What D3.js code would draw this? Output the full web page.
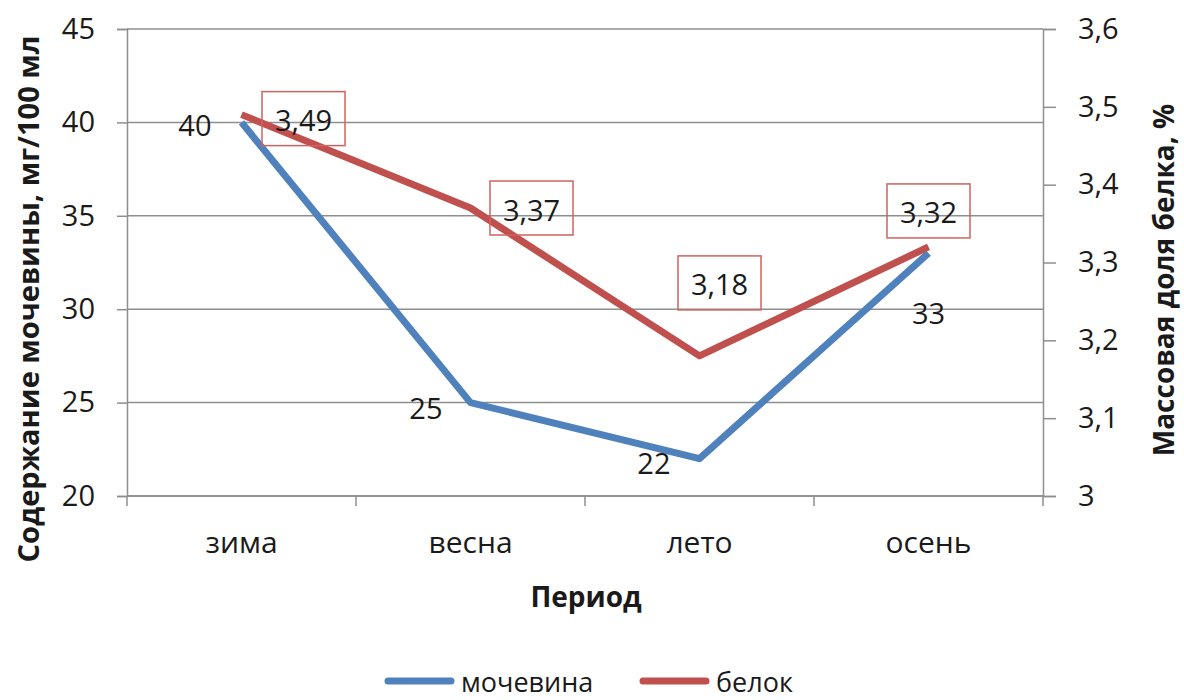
<!DOCTYPE html>
<html><head><meta charset="utf-8">
<script src="https://cdn.jsdelivr.net/npm/d3@7"></script>
<style>
html,body{margin:0;padding:0;background:#fff;}
svg{display:block;}
text{font-family:"Open Sans","DejaVu Sans",sans-serif;fill:#1a1a1a;}
</style></head>
<body>
<svg id="chart" width="1184" height="700"></svg>
<script>
const categories = ["зима", "весна", "лето", "осень"];
const ureaValues = [40, 25, 22, 33];
const proteinValues = [3.49, 3.37, 3.18, 3.32];
const ureaLabels = ["40", "25", "22", "33"];
const proteinLabels = ["3,49", "3,37", "3,18", "3,32"];
const leftTicks = [20, 25, 30, 35, 40, 45];
const rightTicks = [3.0, 3.1, 3.2, 3.3, 3.4, 3.5, 3.6];
const seriesNames = ["мочевина", "белок"];
const leftTitle = "Содержание мочевины, мг/100 мл";
const rightTitle = "Массовая доля белка, %";
const xTitle = "Период";

// label placement offsets (px) relative to the point
const ureaLabelPos = [{dx:-30,dy:2,anchor:"end"},{dx:-28,dy:5,anchor:"end"},{dx:-29,dy:4,anchor:"end"},{dx:0,dy:59,anchor:"middle"}];
const proteinLabelPos = [{dx:62,dy:4},{dx:61,dy:0},{dx:20,dy:-73},{dx:0,dy:-36}];

const blue = "#4f81bd", red = "#c0504d", grid = "#8e8e8e";
const svg = d3.select("#chart");
const L = 127, R = 1043, T = 29, B = 496;

const x = d3.scaleBand().domain(categories).range([L, R]);
const yL = d3.scaleLinear().domain([20, 45]).range([B, T]);
const yR = d3.scaleLinear().domain([3.0, 3.6]).range([B, T]);

// gridlines
svg.append("g").selectAll("line").data(leftTicks).join("line")
  .attr("x1", L).attr("x2", R).attr("y1", d => yL(d)).attr("y2", d => yL(d))
  .attr("stroke", grid).attr("stroke-width", 1.5);

// left axis
const gL = svg.append("g").attr("transform", `translate(${L},0)`)
  .call(d3.axisLeft(yL).tickValues(leftTicks).tickSize(10).tickPadding(22).tickFormat(d3.format("d")));
// right axis
const gR = svg.append("g").attr("transform", `translate(${R},0)`)
  .call(d3.axisRight(yR).tickValues(rightTicks).tickSize(13).tickPadding(22).tickFormat(d => d === 3 ? "3" : String(d).replace(".", ",")));
// bottom axis
const gB = svg.append("g").attr("transform", `translate(0,${B})`)
  .call(d3.axisBottom(x).tickSize(0).tickPadding(36));
// bottom category boundary ticks
svg.append("g").selectAll("line").data(d3.range(categories.length + 1)).join("line")
  .attr("x1", i => L + i * x.step()).attr("x2", i => L + i * x.step())
  .attr("y1", B).attr("y2", B + 10).attr("stroke", grid).attr("stroke-width", 1.5);

[gL, gR, gB].forEach(g => {
  g.selectAll(".domain").attr("stroke", grid).attr("stroke-width", 1.5);
  g.selectAll(".tick line").attr("stroke", grid).attr("stroke-width", 1.5);
  g.selectAll("text").style("font-size", "29px").attr("fill", "#1a1a1a");
});
gB.selectAll("text").style("font-size", "30px");
gB.select(".domain").remove();
svg.append("line").attr("x1", L).attr("x2", R).attr("y1", B).attr("y2", B).attr("stroke", grid).attr("stroke-width", 1.5);

const cx = d => x(d) + x.bandwidth() / 2;

// lines
const lineU = d3.line().x((d, i) => cx(categories[i])).y(d => yL(d));
const lineP = d3.line().x((d, i) => cx(categories[i])).y(d => yR(d));
svg.append("path").datum(ureaValues).attr("d", lineU).attr("fill", "none")
  .attr("stroke", blue).attr("stroke-width", 7).attr("stroke-linejoin", "round");
svg.append("path").datum(proteinValues).attr("d", lineP).attr("fill", "none")
  .attr("stroke", red).attr("stroke-width", 7).attr("stroke-linejoin", "round");

// urea labels
svg.append("g").selectAll("text").data(ureaValues).join("text")
  .attr("x", (d, i) => cx(categories[i]) + ureaLabelPos[i].dx)
  .attr("y", (d, i) => yL(d) + ureaLabelPos[i].dy)
  .attr("text-anchor", (d, i) => ureaLabelPos[i].anchor)
  .attr("dominant-baseline", "central")
  .style("font-size", "29px")
  .text((d, i) => ureaLabels[i]);

// protein labels with boxes
const pl = svg.append("g").selectAll("g").data(proteinValues).join("g")
  .attr("transform", (d, i) => `translate(${cx(categories[i]) + proteinLabelPos[i].dx},${yR(d) + proteinLabelPos[i].dy})`);
pl.append("rect").attr("x", -41.5).attr("y", -27).attr("width", 83).attr("height", 54)
  .attr("fill", "none").attr("stroke", "#d0625f").attr("stroke-width", 1.5);
pl.append("text").attr("text-anchor", "middle").attr("dominant-baseline", "central")
  .attr("y", 1).style("font-size", "29px").text((d, i) => proteinLabels[i]);

// axis titles
svg.append("text").attr("transform", `translate(39,${(T + 565) / 2 + 2}) rotate(-90)`)
  .attr("text-anchor", "middle").style("font-size", "29px").style("font-weight", "bold").text(leftTitle);
svg.append("text").attr("transform", `translate(1174,${280}) rotate(-90)`)
  .attr("text-anchor", "middle").style("font-size", "28px").style("font-weight", "bold").text(rightTitle);
svg.append("text").attr("x", (L + R) / 2 + 1).attr("y", 607)
  .attr("text-anchor", "middle").style("font-size", "28px").style("font-weight", "bold").text(xTitle);

// legend
const legendItems = [{name: seriesNames[0], color: blue, x: 385}, {name: seriesNames[1], color: red, x: 640}];
const lg = svg.append("g").selectAll("g").data(legendItems).join("g")
  .attr("transform", d => `translate(${d.x},681)`);
lg.append("line").attr("x1", 3).attr("x2", 66).attr("stroke", d => d.color).attr("stroke-width", 7).attr("stroke-linecap", "round");
lg.append("text").attr("x", 76).attr("y", 0).attr("dominant-baseline", "central").style("font-size", "27px").text(d => d.name);
</script>
</body></html>
